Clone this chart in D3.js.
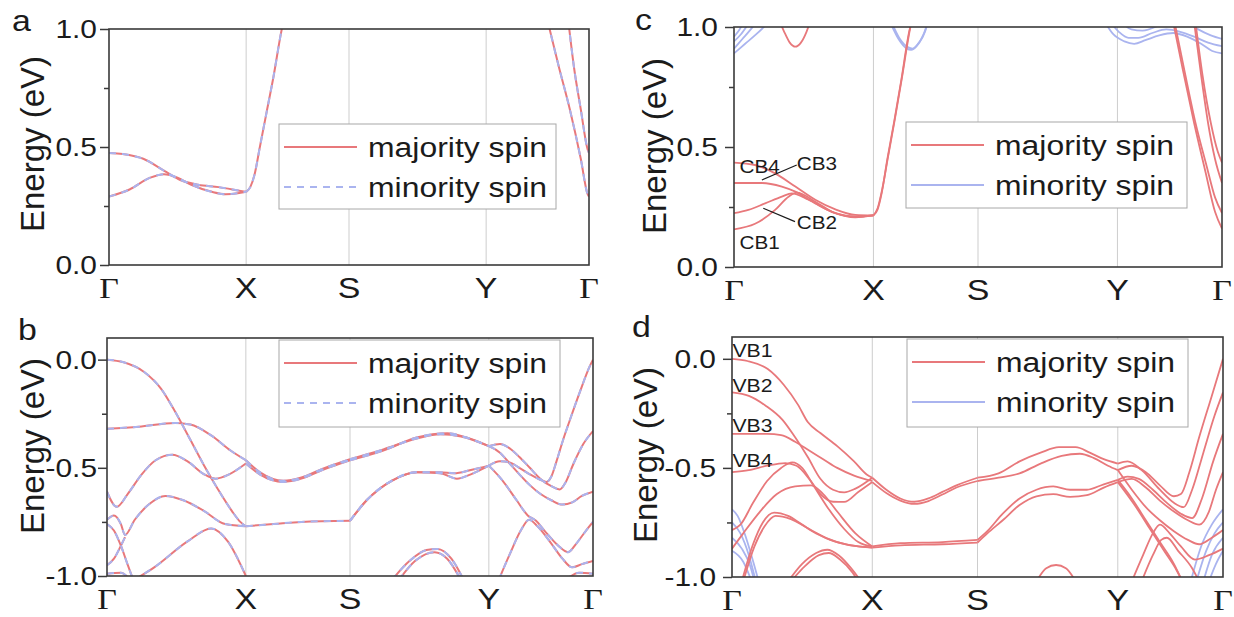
<!DOCTYPE html>
<html>
<head>
<meta charset="utf-8">
<script src="https://cdn.jsdelivr.net/npm/d3@7"></script>
<style>
  body { margin: 0; background: #fff; }
</style>
</head>
<body>
<svg id="chart" width="1234" height="617"></svg>
<script>
// ---- data ---------------------------------------------------------------
// k-path: Γ-X is 1 unit, X-S 0.75, S-Y 1, Y-Γ 0.75
const kTicks = [0, 1, 1.75, 2.75, 3.5];
const kLabels = ["Γ", "X", "S", "Y", "Γ"];
const legendLabels = ["majority spin", "minority spin"];

// each band is a list of [k, energy (eV)]
const majorityA = [
  [[0,0.29],[0.15,0.32],[0.3,0.37],[0.4,0.385],[0.5,0.37],[0.6,0.34],[0.75,0.31],[0.85,0.30],[0.95,0.305],[1.0,0.31]],
  [[0,0.475],[0.1,0.47],[0.25,0.45],[0.4,0.40],[0.52,0.36],[0.65,0.34],[0.8,0.33],[0.95,0.315],[1.0,0.31]],
  [[1.0,0.31],[1.03,0.33],[1.06,0.38],[1.1,0.5],[1.15,0.65],[1.2,0.8],[1.25,0.97],[1.27,1.03]],
  [[3.2,1.03],[3.28,0.84],[3.36,0.66],[3.44,0.45],[3.49,0.30],[3.5,0.29]],
  [[3.35,1.03],[3.39,0.84],[3.44,0.66],[3.49,0.49],[3.5,0.475]]
];
const minorityA = majorityA;

const majorityB = [
  [[0,0],[0.12,-0.012],[0.27,-0.058],[0.39,-0.135],[0.49,-0.24],[0.6,-0.37],[0.7,-0.49],[0.8,-0.6],[0.9,-0.7],[0.96,-0.75],[1.0,-0.77]],
  [[0,-0.32],[0.23,-0.31],[0.49,-0.293],[0.6,-0.3],[0.75,-0.35],[0.89,-0.42],[1.0,-0.465]],
  [[0,-0.61],[0.07,-0.68],[0.15,-0.62],[0.25,-0.53],[0.35,-0.465],[0.47,-0.44],[0.58,-0.47],[0.7,-0.53],[0.78,-0.55],[0.88,-0.53],[1.0,-0.48]],
  [[0,-0.74],[0.05,-0.72],[0.1,-0.76],[0.13,-0.81],[0.2,-0.74],[0.3,-0.67],[0.42,-0.63],[0.55,-0.65],[0.7,-0.7],[0.85,-0.76],[1.0,-0.77]],
  [[0,-0.76],[0.05,-0.79],[0.1,-0.86],[0.15,-0.95],[0.19,-1.02]],
  [[0,-0.95],[0.05,-0.92],[0.1,-0.86],[0.13,-0.82]],
  [[0,-0.99],[0.1,-0.985],[0.17,-1.02]],
  [[0.19,-1.02],[0.34,-0.96],[0.58,-0.84],[0.75,-0.78],[0.87,-0.84],[1.0,-1.0]],
  [[1.0,-0.48],[1.1,-0.53],[1.27,-0.565],[1.4,-0.55],[1.55,-0.51],[1.75,-0.465]],
  [[1.0,-0.465],[1.1,-0.52],[1.27,-0.56],[1.4,-0.545],[1.55,-0.505],[1.75,-0.46]],
  [[1.0,-0.77],[1.2,-0.76],[1.4,-0.75],[1.75,-0.745]],
  [[1.75,-0.465],[1.99,-0.42],[2.23,-0.36],[2.45,-0.34],[2.59,-0.36],[2.75,-0.40]],
  [[1.75,-0.46],[1.99,-0.415],[2.23,-0.365],[2.4,-0.345],[2.55,-0.355],[2.75,-0.40]],
  [[1.75,-0.745],[1.87,-0.65],[2.05,-0.56],[2.23,-0.52],[2.4,-0.525],[2.52,-0.55],[2.62,-0.53],[2.75,-0.49]],
  [[1.75,-0.745],[1.87,-0.65],[2.05,-0.56],[2.23,-0.52],[2.4,-0.52],[2.5,-0.525],[2.62,-0.51],[2.75,-0.49]],
  [[2.05,-1.02],[2.18,-0.93],[2.3,-0.88],[2.38,-0.875],[2.48,-0.92],[2.57,-1.02]],
  [[2.1,-1.02],[2.22,-0.93],[2.36,-0.89],[2.45,-0.92],[2.55,-1.02]],
  [[2.75,-0.49],[2.83,-0.47],[2.9,-0.475],[2.97,-0.50],[3.045,-0.53],[3.12,-0.555],[3.165,-0.565],[3.2,-0.54],[3.237,-0.47],[3.285,-0.37],[3.333,-0.28],[3.405,-0.15],[3.477,-0.03],[3.5,0.0]],
  [[2.75,-0.40],[2.83,-0.39],[2.9,-0.41],[2.97,-0.45],[3.045,-0.5],[3.12,-0.55],[3.2,-0.585],[3.26,-0.6],[3.3,-0.57],[3.36,-0.48],[3.43,-0.39],[3.5,-0.33]],
  [[2.75,-0.40],[2.83,-0.43],[2.9,-0.48],[2.97,-0.53],[3.045,-0.58],[3.12,-0.62],[3.2,-0.65],[3.28,-0.67],[3.35,-0.66],[3.42,-0.63],[3.5,-0.61]],
  [[2.75,-0.49],[2.85,-0.56],[2.95,-0.65],[3.03,-0.72],[3.09,-0.745],[3.15,-0.79],[3.25,-0.86],[3.32,-0.89],[3.38,-0.85],[3.45,-0.79],[3.5,-0.75]],
  [[2.82,-1.02],[2.9,-0.9],[2.98,-0.79],[3.04,-0.74],[3.1,-0.77],[3.2,-0.85],[3.28,-0.92],[3.35,-0.96],[3.42,-0.945],[3.5,-0.93]],
  [[3.3,-1.02],[3.4,-0.985],[3.5,-0.99]]
];
const minorityB = majorityB;

const majorityC = [
  [[0,0.435],[0.15,0.425],[0.295,0.39],[0.44,0.335],[0.583,0.28],[0.727,0.24],[0.87,0.217],[1.0,0.215]],
  [[0,0.35],[0.2,0.35],[0.343,0.335],[0.44,0.314],[0.583,0.265],[0.727,0.224],[0.87,0.21],[1.0,0.215]],
  [[0,0.224],[0.103,0.238],[0.223,0.265],[0.343,0.293],[0.415,0.307],[0.535,0.28],[0.703,0.23],[0.87,0.21],[1.0,0.215]],
  [[0,0.157],[0.151,0.18],[0.295,0.238],[0.391,0.293],[0.451,0.31],[0.583,0.272],[0.727,0.224],[0.87,0.207],[1.0,0.215]],
  [[1.0,0.215],[1.03,0.24],[1.06,0.31],[1.1,0.45],[1.15,0.61],[1.2,0.78],[1.26,0.99],[1.28,1.03]],
  [[1.0,0.215],[1.03,0.245],[1.065,0.33],[1.105,0.46],[1.155,0.62],[1.205,0.79],[1.265,1.0],[1.28,1.04]],
  [[0.33,1.02],[0.36,0.98],[0.4,0.935],[0.44,0.918],[0.48,0.935],[0.52,0.98],[0.545,1.02]],
  [[3.15,1.02],[3.22,0.82],[3.3,0.6],[3.38,0.4],[3.45,0.23],[3.5,0.16]],
  [[3.16,1.02],[3.23,0.82],[3.31,0.6],[3.39,0.42],[3.45,0.29],[3.5,0.225]],
  [[3.3,1.02],[3.35,0.8],[3.4,0.6],[3.45,0.45],[3.5,0.35]],
  [[3.31,1.02],[3.36,0.8],[3.42,0.6],[3.47,0.48],[3.5,0.435]]
];
const minorityC = [
  [[0,0.89],[0.08,0.93],[0.16,0.97],[0.25,1.02]],
  [[0,0.91],[0.06,0.95],[0.12,0.99],[0.16,1.02]],
  [[0,0.94],[0.05,0.97],[0.1,1.01]],
  [[0,0.96],[0.04,0.99],[0.07,1.02]],
  [[1.12,1.02],[1.18,0.95],[1.24,0.91],[1.27,0.905],[1.31,0.92],[1.36,0.97],[1.39,1.02]],
  [[1.13,1.02],[1.19,0.95],[1.25,0.915],[1.28,0.91],[1.32,0.93],[1.37,0.98],[1.39,1.02]],
  [[2.66,1.02],[2.72,0.97],[2.8,0.94],[2.87,0.93],[2.95,0.945],[3.05,0.965],[3.15,0.975],[3.25,0.96],[3.35,0.93],[3.43,0.9],[3.5,0.89]],
  [[2.7,1.02],[2.76,0.98],[2.83,0.955],[2.9,0.955],[3.0,0.975],[3.1,0.99],[3.2,0.98],[3.3,0.96],[3.4,0.935],[3.5,0.92]],
  [[2.78,1.02],[2.85,0.99],[2.93,0.985],[3.02,1.0],[3.08,1.02]],
  [[3.25,1.02],[3.33,0.99],[3.42,0.965],[3.5,0.95]]
];

const majorityD = [
  [[0,0],[0.11,-0.01],[0.255,-0.047],[0.37,-0.12],[0.47,-0.21],[0.54,-0.29],[0.63,-0.34],[0.75,-0.40],[0.87,-0.47],[0.96,-0.53],[1.0,-0.545]],
  [[0,-0.154],[0.12,-0.17],[0.24,-0.215],[0.36,-0.28],[0.45,-0.36],[0.54,-0.45],[0.63,-0.55],[0.72,-0.6],[0.8,-0.612],[0.88,-0.595],[1.0,-0.545]],
  [[0,-0.344],[0.12,-0.344],[0.25,-0.344],[0.35,-0.35],[0.45,-0.38],[0.55,-0.42],[0.65,-0.46],[0.75,-0.5],[0.87,-0.535],[1.0,-0.56]],
  [[0,-0.519],[0.12,-0.51],[0.25,-0.49],[0.38,-0.478],[0.46,-0.49],[0.55,-0.55],[0.63,-0.62],[0.72,-0.655],[0.8,-0.656],[0.9,-0.61],[1.0,-0.565]],
  [[0,-0.785],[0.06,-0.76],[0.15,-0.66],[0.25,-0.56],[0.35,-0.5],[0.43,-0.475],[0.5,-0.5],[0.58,-0.58],[0.68,-0.68],[0.8,-0.78],[0.9,-0.84],[1.0,-0.86]],
  [[0,-0.87],[0.08,-0.8],[0.2,-0.7],[0.32,-0.62],[0.45,-0.585],[0.565,-0.58],[0.65,-0.62],[0.75,-0.7],[0.88,-0.8],[1.0,-0.86]],
  [[0.07,-1.02],[0.15,-0.85],[0.22,-0.75],[0.3,-0.705],[0.4,-0.72],[0.5,-0.76],[0.6,-0.8],[0.75,-0.84],[0.9,-0.86],[1.0,-0.865]],
  [[0.08,-1.02],[0.16,-0.86],[0.23,-0.77],[0.31,-0.72],[0.42,-0.735],[0.55,-0.78],[0.7,-0.83],[0.85,-0.855],[1.0,-0.865]],
  [[0.4,-1.02],[0.5,-0.94],[0.6,-0.89],[0.68,-0.875],[0.76,-0.9],[0.85,-0.96],[0.92,-1.02]],
  [[0.42,-1.02],[0.52,-0.95],[0.62,-0.9],[0.69,-0.89],[0.77,-0.92],[0.86,-0.98],[0.9,-1.02]],
  [[1.0,-0.545],[1.1,-0.6],[1.2,-0.64],[1.3,-0.655],[1.4,-0.64],[1.5,-0.61],[1.6,-0.58],[1.75,-0.545]],
  [[1.0,-0.565],[1.1,-0.615],[1.2,-0.65],[1.3,-0.665],[1.4,-0.652],[1.5,-0.622],[1.6,-0.59],[1.75,-0.56]],
  [[1.0,-0.86],[1.2,-0.845],[1.5,-0.84],[1.75,-0.83]],
  [[1.0,-0.865],[1.2,-0.855],[1.5,-0.85],[1.75,-0.842]],
  [[1.75,-0.545],[1.9,-0.525],[2.05,-0.47],[2.2,-0.43],[2.33,-0.405],[2.45,-0.405],[2.55,-0.43],[2.65,-0.46],[2.75,-0.48]],
  [[1.75,-0.56],[1.9,-0.545],[2.05,-0.525],[2.2,-0.48],[2.35,-0.445],[2.48,-0.435],[2.58,-0.455],[2.68,-0.49],[2.75,-0.51]],
  [[1.75,-0.83],[1.82,-0.79],[1.93,-0.71],[2.05,-0.64],[2.17,-0.6],[2.29,-0.585],[2.41,-0.6],[2.53,-0.6],[2.65,-0.575],[2.75,-0.555]],
  [[1.75,-0.842],[1.82,-0.8],[1.93,-0.74],[2.05,-0.67],[2.17,-0.63],[2.29,-0.62],[2.41,-0.633],[2.53,-0.625],[2.65,-0.59],[2.75,-0.565]],
  [[2.17,-1.02],[2.24,-0.96],[2.31,-0.945],[2.38,-0.96],[2.45,-1.02]],
  [[2.75,-0.51],[2.85,-0.49],[2.95,-0.52],[3.05,-0.58],[3.15,-0.63],[3.2,-0.62],[3.26,-0.52],[3.33,-0.36],[3.42,-0.17],[3.5,0.0]],
  [[2.75,-0.48],[2.82,-0.47],[2.92,-0.51],[3.05,-0.6],[3.15,-0.66],[3.22,-0.68],[3.28,-0.6],[3.36,-0.43],[3.44,-0.26],[3.5,-0.154]],
  [[2.75,-0.555],[2.82,-0.54],[2.9,-0.55],[3.0,-0.6],[3.1,-0.66],[3.2,-0.71],[3.28,-0.73],[3.35,-0.64],[3.43,-0.47],[3.5,-0.344]],
  [[2.75,-0.565],[2.85,-0.55],[2.95,-0.59],[3.05,-0.65],[3.15,-0.7],[3.25,-0.74],[3.33,-0.76],[3.4,-0.7],[3.45,-0.6],[3.5,-0.519]],
  [[2.75,-0.51],[2.85,-0.6],[2.95,-0.68],[3.05,-0.74],[3.15,-0.79],[3.25,-0.83],[3.33,-0.85],[3.42,-0.82],[3.5,-0.785]],
  [[2.75,-0.555],[2.85,-0.64],[2.95,-0.74],[3.05,-0.84],[3.15,-0.94],[3.21,-1.02]],
  [[2.75,-0.565],[2.87,-0.67],[2.98,-0.78],[3.08,-0.88],[3.17,-0.97],[3.21,-1.02]],
  [[2.85,-1.02],[2.93,-0.9],[3.0,-0.8],[3.05,-0.76],[3.12,-0.8],[3.2,-0.86],[3.3,-0.92],[3.4,-0.9],[3.5,-0.87]],
  [[2.92,-1.02],[3.0,-0.9],[3.06,-0.83],[3.1,-0.82],[3.18,-0.88],[3.28,-0.96],[3.33,-1.02]]
];
const minorityD = [
  [[0,-0.69],[0.04,-0.72],[0.1,-0.82],[0.16,-0.95],[0.19,-1.02]],
  [[0,-0.75],[0.06,-0.8],[0.12,-0.9],[0.17,-1.02]],
  [[0,-0.82],[0.07,-0.87],[0.13,-0.95],[0.16,-1.02]],
  [[0,-0.88],[0.08,-0.93],[0.14,-1.02]],
  [[3.27,-1.02],[3.35,-0.85],[3.42,-0.76],[3.5,-0.69]],
  [[3.31,-1.02],[3.38,-0.88],[3.44,-0.8],[3.5,-0.75]],
  [[3.36,-1.02],[3.42,-0.9],[3.5,-0.82]],
  [[3.4,-1.02],[3.45,-0.94],[3.5,-0.88]]
];

// band labels: [text, k, E]
const notesC = [["CB4",0.04,0.39],["CB3",0.45,0.404],["CB2",0.45,0.16],["CB1",0.04,0.077]];
const leadersC = [[[0.45,0.425],[0.2,0.3625]], [[0.4375,0.189],[0.21,0.245]]];
const notesD = [["VB1",0.003,0.008],["VB2",0.003,-0.152],["VB3",0.003,-0.335],["VB4",0.003,-0.496]];

// ---- layout -------------------------------------------------------------
const panels = [
  { id: "a", left: 109, right: 589, top: 29, bottom: 265, yDomain: [0, 1],
    yTicks: [0, 0.5, 1], yMinor: [0.25, 0.75], tickGap: 12, titleX: 32, titleY: 144,
    letter: [12, 31], legend: [279, 124, 277, 85], dashed: true, maj: majorityA, min: minorityA },
  { id: "b", left: 107, right: 593, top: 338, bottom: 576, yDomain: [-1, 0.1],
    yTicks: [-1, -0.5, 0], yMinor: [-0.75, -0.25], tickGap: 10, titleX: 32, titleY: 446,
    letter: [18, 340], legend: [279, 340, 281, 87], dashed: true, maj: majorityB, min: minorityB },
  { id: "c", left: 734, right: 1222, top: 27, bottom: 267, yDomain: [0, 1],
    yTicks: [0, 0.5, 1], yMinor: [0.25, 0.75], tickGap: 16, titleX: 654, titleY: 146,
    letter: [635, 30], legend: [906, 122, 281, 86], dashed: false, maj: majorityC, min: minorityC,
    notes: notesC, leaders: leadersC, noteSize: 18, noteSx: 1.15 },
  { id: "d", left: 732, right: 1223, top: 337, bottom: 577, yDomain: [-1, 0.1],
    yTicks: [-1, -0.5, 0], yMinor: [-0.75, -0.25], tickGap: 16, titleX: 645, titleY: 455,
    letter: [632, 337], legend: [907, 339, 281, 88], dashed: false, maj: majorityD, min: minorityD,
    notes: notesD, noteSize: 18, noteSx: 1.18 }
];

const RED = "#e8787b", BLUE = "#aab4ef", INK = "#1b1b1b", FRAME = "#3a3a3a";
const SANS = "'Liberation Sans', Arial, sans-serif";
const SERIF = "'Liberation Serif', 'Times New Roman', serif";
const SX = 1.13; // the source figure is slightly stretched sideways

const svg = d3.select("#chart");

function label(g, x, y, str, size, anchor, sx, family) {
  return g.append("text")
    .attr("transform", `translate(${x},${y}) scale(${sx},1)`)
    .attr("text-anchor", anchor)
    .attr("font-family", family || SANS)
    .attr("font-size", size)
    .attr("fill", INK)
    .text(str);
}

panels.forEach(p => {
  const x = d3.scaleLinear().domain([0, 3.5]).range([p.left, p.right]);
  const y = d3.scaleLinear().domain(p.yDomain).range([p.bottom, p.top]);
  const g = svg.append("g").attr("class", "panel-" + p.id);

  g.append("clipPath").attr("id", "clip-" + p.id).append("rect")
    .attr("x", p.left).attr("y", p.top)
    .attr("width", p.right - p.left).attr("height", p.bottom - p.top);

  // high-symmetry points
  g.selectAll("line.sym").data(kTicks.slice(1, 4)).join("line")
    .attr("class", "sym")
    .attr("x1", d => x(d)).attr("x2", d => x(d))
    .attr("y1", p.top).attr("y2", p.bottom)
    .attr("stroke", "#cdcdcd").attr("stroke-width", 1);

  const line = d3.line().x(d => x(d[0])).y(d => y(d[1])).curve(d3.curveMonotoneX);
  const plot = g.append("g").attr("clip-path", `url(#clip-${p.id})`);

  if (p.dashed) {
    plot.selectAll("path.maj").data(p.maj).join("path").attr("class", "maj")
      .attr("d", line).attr("fill", "none").attr("stroke", RED).attr("stroke-width", 2);
    plot.selectAll("path.min").data(p.min).join("path").attr("class", "min")
      .attr("d", line).attr("fill", "none").attr("stroke", BLUE).attr("stroke-width", 2)
      .attr("stroke-dasharray", "7,6");
  } else {
    plot.selectAll("path.min").data(p.min).join("path").attr("class", "min")
      .attr("d", line).attr("fill", "none").attr("stroke", BLUE).attr("stroke-width", 1.8);
    plot.selectAll("path.maj").data(p.maj).join("path").attr("class", "maj")
      .attr("d", line).attr("fill", "none").attr("stroke", RED).attr("stroke-width", 1.8);
  }

  // frame
  g.append("rect")
    .attr("x", p.left).attr("y", p.top)
    .attr("width", p.right - p.left).attr("height", p.bottom - p.top)
    .attr("fill", "none").attr("stroke", FRAME).attr("stroke-width", 1.6);

  // y ticks
  const yMaj = g.append("g").attr("transform", `translate(${p.left},0)`)
    .call(d3.axisLeft(y).tickValues(p.yTicks).tickSize(9).tickFormat(""));
  const yMin = g.append("g").attr("transform", `translate(${p.left},0)`)
    .call(d3.axisLeft(y).tickValues(p.yMinor).tickSize(5).tickFormat(""));
  [yMaj, yMin].forEach(a => {
    a.select(".domain").remove();
    a.selectAll("line").attr("stroke", FRAME).attr("stroke-width", 1.5);
  });
  p.yTicks.forEach(v => label(g, p.left - p.tickGap, y(v) + 9, v.toFixed(1), 26, "end", 1.15));

  // x labels
  kTicks.forEach((k, i) =>
    label(g, x(k), p.bottom + 33, kLabels[i], 30, "middle", SX, kLabels[i] === "Γ" ? SERIF : SANS));

  // axis title and panel letter
  g.append("text")
    .attr("transform", `translate(${p.titleX},${p.titleY}) rotate(-90)`)
    .attr("dy", "0.35em")
    .attr("text-anchor", "middle")
    .attr("font-family", SANS).attr("font-size", 33).attr("fill", INK)
    .text("Energy (eV)");
  label(g, p.letter[0], p.letter[1], p.id, 30, "start", SX);

  // band annotations
  if (p.notes) {
    p.notes.forEach(n => label(g, x(n[1]), y(n[2]), n[0], p.noteSize, "start", p.noteSx));
  }
  if (p.leaders) {
    g.selectAll("line.leader").data(p.leaders).join("line").attr("class", "leader")
      .attr("x1", d => x(d[0][0])).attr("y1", d => y(d[0][1]))
      .attr("x2", d => x(d[1][0])).attr("y2", d => y(d[1][1]))
      .attr("stroke", INK).attr("stroke-width", 1.2);
  }

  // legend
  const [lx, ly, lw, lh] = p.legend;
  const lg = g.append("g");
  lg.append("rect").attr("x", lx).attr("y", ly).attr("width", lw).attr("height", lh)
    .attr("fill", "#fff").attr("stroke", "#a8a8a8").attr("stroke-width", 1);
  legendLabels.forEach((t, i) => {
    const rowY = ly + 23 + i * 40;
    lg.append("line")
      .attr("x1", lx + 5).attr("x2", lx + 78).attr("y1", rowY).attr("y2", rowY)
      .attr("stroke", i === 0 ? RED : BLUE).attr("stroke-width", 2)
      .attr("stroke-dasharray", i === 1 && p.dashed ? "7,6" : null);
    label(lg, lx + 89, rowY + 10, t, 28, "start", 1.14);
  });
});
</script>
</body>
</html>
